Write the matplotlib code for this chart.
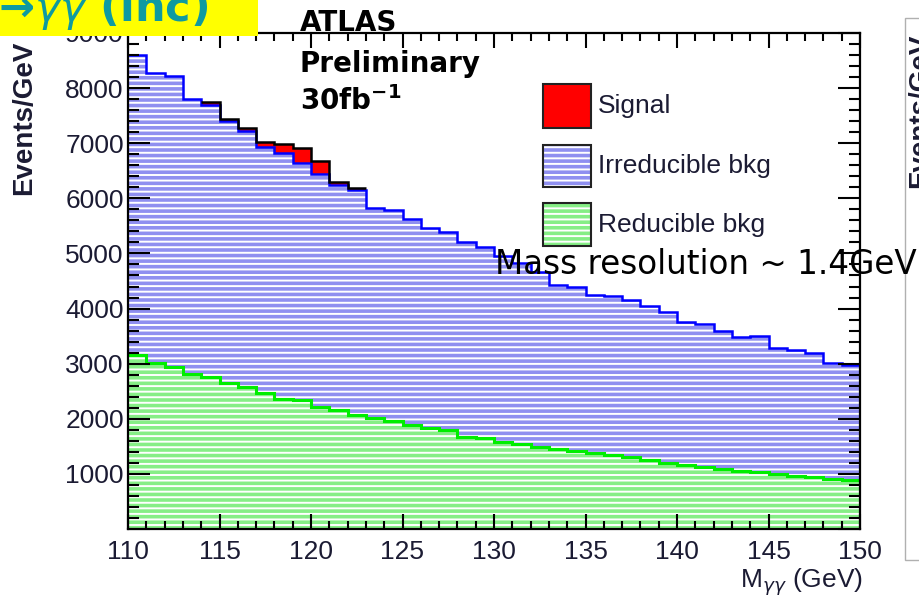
import numpy as np
import matplotlib.pyplot as plt
from matplotlib.patches import Rectangle
from matplotlib.ticker import MultipleLocator, FuncFormatter

plt.rcParams['hatch.linewidth'] = 1.4

# diphoton mass bins, 1 GeV wide
mass_edges = np.arange(110, 151)

# events/GeV per bin, 110..149
reducible = [3160, 3010, 2935, 2815, 2765, 2645, 2570, 2465, 2355, 2340,
             2220, 2160, 2070, 2020, 1960, 1890, 1830, 1800, 1675, 1645,
             1585, 1545, 1495, 1450, 1420, 1385, 1345, 1300, 1250, 1190,
             1160, 1120, 1085, 1060, 1040, 995, 965, 950, 900, 890]
irreducible = [5440, 5260, 5285, 4985, 4935, 4755, 4650, 4475, 4465, 4310,
               4220, 4080, 4080, 3800, 3830, 3730, 3630, 3585, 3540, 3475,
               3375, 3275, 3175, 2970, 2970, 2865, 2885, 2850, 2800, 2740,
               2600, 2600, 2515, 2420, 2460, 2285, 2285, 2240, 2110, 2090]
signal = [0, 0, 0, 0, 40, 40, 50, 90, 170, 260,
          230, 50, 30, 0, 0, 0, 0, 0, 0, 0,
          0, 0, 0, 0, 0, 0, 0, 0, 0, 0,
          0, 0, 0, 0, 0, 0, 0, 0, 0, 0]
legend_labels = ['Signal', 'Irreducible bkg', 'Reducible bkg']

W, H = 919, 597
fig = plt.figure(figsize=(W / 100, H / 100), dpi=100)
ax = fig.add_axes([128 / W, 1 - 529 / H, (860 - 128) / W, (529 - 33) / H])

blue_fc = '#8f8ff0'
green_fc = '#86ee86'
txt_col = '#1b1b33'

# stacked histogram
red_top = np.array(reducible)
irr_top = red_top + np.array(irreducible)
tot_top = irr_top + np.array(signal)

ax.stairs(red_top, mass_edges, baseline=0, fill=True, facecolor=green_fc,
          edgecolor='white', hatch='---', lw=0)
ax.stairs(irr_top, mass_edges, baseline=red_top, fill=True, facecolor=blue_fc,
          edgecolor='white', hatch='---', lw=0)
ax.stairs(tot_top, mass_edges, baseline=irr_top, fill=True, facecolor='#ff0000', lw=0)

ax.stairs(red_top, mass_edges, baseline=None, color='#00ee00', lw=2.2)
ax.stairs(irr_top, mass_edges, baseline=None, color='#0000ff', lw=1.8)
sig_bins = np.nonzero(signal)[0]
i0, i1 = sig_bins[0], sig_bins[-1] + 1
ax.stairs(tot_top[i0:i1], mass_edges[i0:i1 + 1], baseline=None, color='black', lw=1.8)

ax.set_xlim(110, 150)
ax.set_ylim(0, 9000)
ax.xaxis.set_major_locator(MultipleLocator(5))
ax.xaxis.set_minor_locator(MultipleLocator(1))
ax.yaxis.set_major_locator(MultipleLocator(1000))
ax.yaxis.set_minor_locator(MultipleLocator(200))
ax.yaxis.set_major_formatter(FuncFormatter(lambda v, p: '' if v == 0 else f'{int(v)}'))

ax.tick_params(which='both', direction='in', top=True, right=True, width=1.5, colors='black')
ax.tick_params(axis='x', which='major', length=11, pad=8)
ax.tick_params(axis='x', which='minor', length=6)
ax.tick_params(axis='y', which='major', length=16, pad=3)
ax.tick_params(axis='y', which='minor', length=8)
for lab in ax.get_xticklabels() + ax.get_yticklabels():
    lab.set_fontfamily('Liberation Sans')
    lab.set_fontsize(19)
    lab.set_color(txt_col)
for sp in ax.spines.values():
    sp.set_linewidth(1.6)

# axis titles
fig.text(24 / W, 1 - 195 / H, 'Events/GeV', rotation=90, ha='center', va='bottom',
         family='Liberation Sans', fontweight='bold', fontsize=20, color=txt_col)
fig.text(863 / W, 1 - 588 / H, r'M$_{\gamma\gamma}$ (GeV)', ha='right', va='baseline',
         family='Liberation Sans', fontsize=19, color=txt_col)

# ATLAS label
for s, yb in [('ATLAS', 31), ('Preliminary', 72), (r'30fb$^{\mathbf{-1}}$', 110)]:
    fig.text(300 / W, 1 - yb / H, s, ha='left', va='baseline', family='DejaVu Sans',
             fontweight='bold', fontsize=20, color='black')

# legend
boxes = [(84, 128, '#ff0000', None), (145, 187, blue_fc, '---'), (203, 246, green_fc, '---')]
for (y0, y1, fc, hatch), label in zip(boxes, legend_labels):
    fig.add_artist(Rectangle((543 / W, 1 - y1 / H), 48 / W, (y1 - y0) / H,
                             transform=fig.transFigure, facecolor=fc, hatch=hatch,
                             edgecolor='white' if hatch else 'black', lw=0, zorder=4))
    fig.add_artist(Rectangle((543 / W, 1 - y1 / H), 48 / W, (y1 - y0) / H,
                             transform=fig.transFigure, facecolor='none',
                             edgecolor='#222222', lw=1.5, zorder=4))
    fig.text(598 / W, 1 - (y0 + y1) / 2 / H, label, ha='left', va='center',
             family='Liberation Sans', fontsize=19, color=txt_col)

fig.text(495 / W, 1 - 274 / H, 'Mass resolution ~ 1.4GeV', ha='left', va='baseline',
         family='DejaVu Sans', fontsize=23.5, color='black', zorder=6)

# title banner
fig.add_artist(Rectangle((0, 1 - 36 / H), 258 / W, 36 / H, transform=fig.transFigure,
                         facecolor='#ffff00', edgecolor='none', zorder=5))
fig.text(-2 / W, 1 - 21 / H, r'→$\gamma\gamma$ (inc)', ha='left', va='baseline',
         family='DejaVu Sans', fontweight='bold', fontsize=31, color='#0e9aa0', zorder=6)

# neighbouring panel edge
fig.add_artist(Rectangle((905 / W, 1 - 560 / H), 30 / W, (560 - 18) / H,
                         transform=fig.transFigure, facecolor='white',
                         edgecolor='#b0b0b0', lw=1, zorder=5))
fig.text(907 / W, 1 - 188 / H, 'Events/GeV', rotation=90, ha='left', va='bottom',
         family='Liberation Sans', fontweight='bold', fontsize=20, color=txt_col, zorder=6)

fig.savefig('out.png', dpi=100)
